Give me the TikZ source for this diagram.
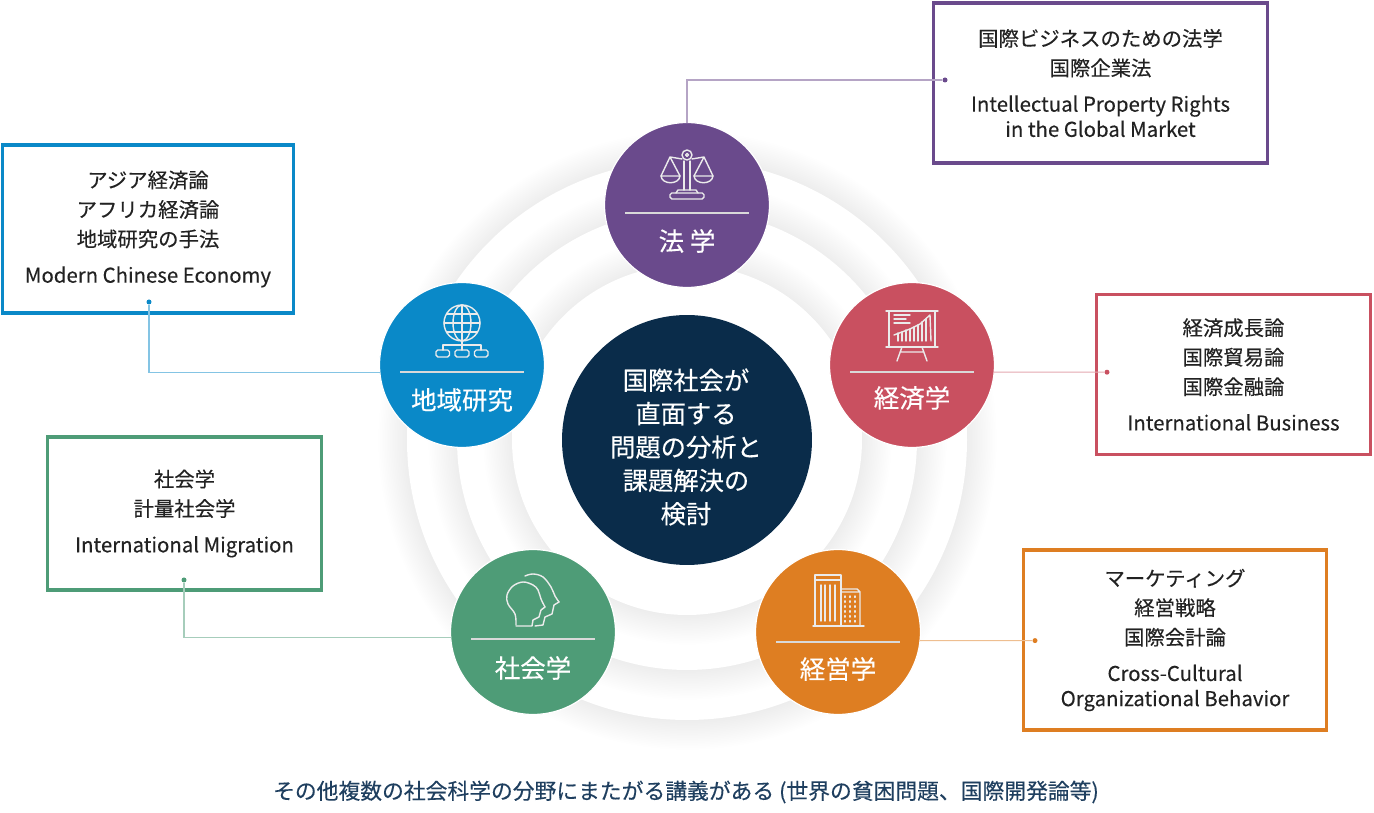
\documentclass[tikz,border=0pt]{standalone}
\usepackage{fontspec}
\setmainfont{Noto Sans CJK JP}[FakeBold=0.25]
\definecolor{houcol}{HTML}{6A4A8C}
\definecolor{keizaicol}{HTML}{C95060}
\definecolor{chiikicol}{HTML}{0A89C8}
\definecolor{shakaicol}{HTML}{4E9C77}
\definecolor{keieicol}{HTML}{DE7E22}
\definecolor{navycol}{HTML}{0A2C4A}
\definecolor{notecol}{HTML}{1F3F5F}
\definecolor{boxtext}{HTML}{222222}
\pgfdeclareradialshading{ringouter}{\pgfpointorigin}{color(0bp)=(black!7); color(22.6bp)=(black!7); color(25bp)=(white); color(50bp)=(white)}
\pgfdeclareradialshading{ringmiddle}{\pgfpointorigin}{color(0bp)=(black!7); color(22.1bp)=(black!7); color(25bp)=(white); color(50bp)=(white)}
\pgfdeclareradialshading{ringinner}{\pgfpointorigin}{color(0bp)=(black!7); color(21.35bp)=(black!7); color(25bp)=(white); color(50bp)=(white)}
\tikzset{
  subjcircle/.style={circle, draw=white, line width=0.7pt, minimum size=3.3cm, inner sep=0pt, outer sep=0pt},
  subjlabel/.style={text=white, inner sep=0pt, font=\fontsize{14.5}{17}\selectfont},
  subjbox/.style={draw=#1, line width=2.1pt, fill=white, align=center, inner sep=0pt, outer sep=0pt, text=boxtext,
    font=\fontsize{11.6}{16.8}\selectfont},
  dotnode/.style={circle, fill=#1, minimum size=0.1cm, inner sep=0pt},
  link/.style={line width=0.6pt, draw=#1!50},
  rulerline/.style={line width=0.8pt, white!85!black},
  icon/.style={line width=0.8pt, white!92!black, line join=round, line cap=round},
}
\begin{document}
\begin{tikzpicture}[x=0.02cm, y=-0.02cm]
    \useasboundingbox (0,0) rectangle (1374,813);
    \coordinate (mid) at (687,440);
    \shade[shading=ringouter] (mid) circle (310);
    \fill[white] (mid) circle (280);
    \shade[shading=ringmiddle] (mid) circle (260);
    \fill[white] (mid) circle (230);
    \shade[shading=ringinner] (mid) circle (205);
    \fill[white] (mid) circle (175);

    \node[circle, fill=navycol, minimum size=5cm, inner sep=0pt] (center) at (mid) {};
    \node[text=white, align=center, inner sep=0pt, font=\fontsize{14.4}{19}\selectfont] (centerlabel) at (686,447)
      {国際社会が\\直面する\\問題の分析と\\課題解決の\\検討};

    \node[subjcircle, fill=houcol] (hou) at (687,205) {};
    \node[subjcircle, fill=keizaicol] (keizai) at (912,365) {};
    \node[subjcircle, fill=chiikicol] (chiiki) at (462,365) {};
    \node[subjcircle, fill=shakaicol] (shakai) at (533,632) {};
    \node[subjcircle, fill=keieicol] (keiei) at (838,632) {};

    \node[subjlabel] (houlabel) at (687,241) {法 学};
    \node[subjlabel] (keizailabel) at (912,398) {経済学};
    \node[subjlabel] (chiikilabel) at (462,400) {地域研究};
    \node[subjlabel] (shakailabel) at (533,668) {社会学};
    \node[subjlabel] (keieilabel) at (838,669) {経営学};

    \draw[rulerline] ([shift={(-62,8)}]hou.center) -- ([shift={(62,8)}]hou.center);
    \draw[rulerline] ([shift={(-62,7)}]keizai.center) -- ([shift={(62,7)}]keizai.center);
    \draw[rulerline] ([shift={(-62,7)}]chiiki.center) -- ([shift={(62,7)}]chiiki.center);
    \draw[rulerline] ([shift={(-62,7)}]shakai.center) -- ([shift={(62,7)}]shakai.center);
    \draw[rulerline] ([shift={(-62,10)}]keiei.center) -- ([shift={(62,10)}]keiei.center);

    \begin{scope}[shift={(hou.center)}, icon]
        \draw (-3,-15) -- (-3,-44) (3,-15) -- (3,-44);
        \draw (0,-50) circle (5);
        \draw (0,-50) circle (1.5);
        \draw (-5,-46) -- (-17,-48) -- (-26,-29) (-17,-48) -- (-7,-29);
        \draw (5,-46) -- (17,-48) -- (26,-29) (17,-48) -- (7,-29);
        \draw (-26,-29) -- (-7,-29) .. controls (-8,-20) and (-25,-20) .. (-26,-29);
        \draw (26,-29) -- (7,-29) .. controls (8,-20) and (25,-20) .. (26,-29);
        \draw (-11,-12) -- (-9,-15) -- (9,-15) -- (11,-12);
        \draw[rounded corners=1pt] (-17,-12) rectangle (17,-6);
    \end{scope}

    \begin{scope}[shift={(keizai.center)}, icon]
        \draw (-26,-54) -- (26,-54) (-26,-18) -- (26,-18);
        \draw (-23,-54) -- (-23,-18) (23,-54) -- (23,-18);
        \draw (-18,-50) -- (-2,-50) (-18,-46) -- (-6,-46) (-18,-42) -- (-2,-42);
        \draw (-18,-30) -- (-2,-36) -- (8,-41) -- (18,-50) -- (19,-24);
        \draw (-14,-32) -- (-14,-24) (-10,-33) -- (-10,-24) (-6,-35) -- (-6,-24) (-2,-36) -- (-2,-24);
        \draw (2,-38) -- (2,-24) (6,-40) -- (6,-24) (10,-43) -- (10,-24) (14,-46) -- (14,-24);
        \draw (-15,-4) -- (-10,-18) (15,-4) -- (10,-18) (-12,-13) -- (12,-13);
    \end{scope}

    \begin{scope}[shift={(chiiki.center)}, icon]
        \draw (0,-42) circle (18);
        \draw (0,-42) ellipse (9 and 18);
        \draw (0,-60) -- (0,-15);
        \draw (-18,-42) -- (18,-42) (-15,-51) -- (15,-51) (-15,-33) -- (15,-33);
        \draw (-19,-15) -- (-19,-20) -- (19,-20) -- (19,-15);
        \draw[rounded corners=1pt] (-26,-15) rectangle (-12.5,-8);
        \draw[rounded corners=1pt] (-7,-15) rectangle (7,-8);
        \draw[rounded corners=1pt] (12.5,-15) rectangle (26,-8);
    \end{scope}

    \begin{scope}[shift={(shakai.center)}, icon]
        \draw plot[smooth, tension=0.6] coordinates {(-17,-7) (-18,-18) (-25,-28) (-26,-37) (-20,-46) (-10,-50) (0,-47) (5,-42) (8,-33) (12,-25)};
        \draw (12,-25) -- (8,-22) -- (6,-15) -- (0,-12) -- (-1,-6) -- (-17,-6);
        \draw plot[smooth, tension=0.6] coordinates {(-8,-56) (0,-58) (10,-55) (18,-45) (22,-36) (26,-30)};
        \draw (26,-30) -- (21,-27) -- (19,-18) -- (12,-15) -- (10,-7) -- (2,-6);
    \end{scope}

    \begin{scope}[shift={(keiei.center)}, icon]
        \draw (-25,-6) -- (26,-6);
        \draw (-23,-6) -- (-23,-57) -- (3,-57) -- (3,-6) (-23,-52) -- (3,-52);
        \draw (-17,-47) -- (-17,-11) (-13,-47) -- (-13,-11) (-8,-47) -- (-8,-11) (-3,-47) -- (-3,-11);
        \draw (3,-43) -- (19,-43) -- (22,-40) -- (22,-6) (3,-40) -- (22,-40);
        \draw[dotted] (7,-36) -- (7,-9) (12,-36) -- (12,-9) (17,-36) -- (17,-9);
    \end{scope}

    \node[subjbox=houcol, minimum width=6.68cm, minimum height=3.2cm] (houbox) at (1100.5,83)
      {国際ビジネスのための法学\\国際企業法\\[3.7pt]Intellectual Property Rights\\[-2.5pt]in the Global Market};
    \node[subjbox=keizaicol, minimum width=5.48cm, minimum height=3.2cm] (keizaibox) at (1233.5,374.5)
      {経済成長論\\国際貿易論\\国際金融論\\[3.7pt]International Business};
    \node[subjbox=chiikicol, minimum width=5.82cm, minimum height=3.36cm] (chiikibox) at (148,229)
      {アジア経済論\\アフリカ経済論\\地域研究の手法\\[3.7pt]Modern Chinese Economy};
    \node[subjbox=shakaicol, minimum width=5.48cm, minimum height=3.06cm] (shakaibox) at (184.5,513.5)
      {社会学\\計量社会学\\[3.7pt]International Migration};
    \node[subjbox=keieicol, minimum width=6.06cm, minimum height=3.6cm] (keieibox) at (1175,640)
      {マーケティング\\経営戦略\\国際会計論\\[3.7pt]Cross-Cultural\\[-2.5pt]Organizational Behavior};

    \node[dotnode=houcol] (houdot) at (945,80) {};
    \node[dotnode=keizaicol] (keizaidot) at (1107,372.2) {};
    \node[dotnode=chiikicol] (chiikidot) at (149,302) {};
    \node[dotnode=shakaicol] (shakaidot) at (184,580) {};
    \node[dotnode=keieicol] (keieidot) at (1035,640.6) {};

    \draw[link=houcol] (hou.north) |- (houdot);
    \draw[link=keizaicol] (keizai.-5) -- (keizaidot);
    \draw[link=chiikicol] (chiiki.185) -| (chiikidot);
    \draw[link=shakaicol] (shakai.184) -| (shakaidot);
    \draw[link=keieicol] (keiei.-6) -- (keieidot);

    \node[text=notecol, inner sep=0pt, font=\fontsize{12.4}{14}\selectfont] (note) at (686,792)
      {その他複数の社会科学の分野にまたがる講義がある (世界の貧困問題、国際開発論等)};
\end{tikzpicture}
\end{document}
